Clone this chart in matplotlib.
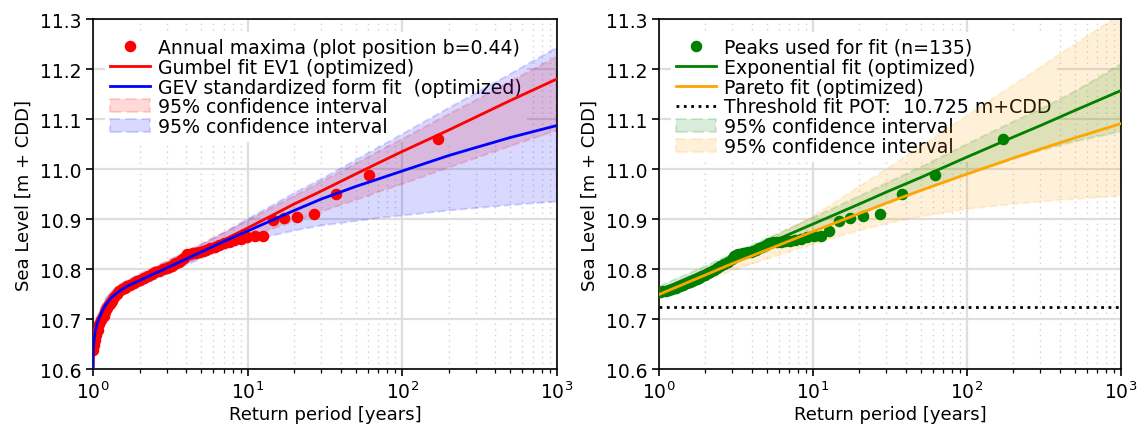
import matplotlib
matplotlib.use('Agg')
import matplotlib.pyplot as plt

# ---- left panel: annual maxima + Gumbel / GEV fits ----
am_period = [170, 61, 37.2, 26.7, 20.9, 17.1, 14.5, 12.6, 11.1, 9.95, 9.0, 8.2,
             7.57, 7.01, 6.53, 6.11, 5.74, 5.41, 5.12, 4.86, 4.62, 4.41, 4.21,
             4.04, 3.87, 3.72, 3.59, 3.46, 3.33, 3.22, 3.11, 3.01, 2.83, 2.67,
             2.53, 2.40, 2.28, 2.13, 2.02, 1.92, 1.83, 1.74, 1.67, 1.60, 1.53,
             1.47, 1.42, 1.37, 1.32, 1.28, 1.24, 1.20, 1.17, 1.13, 1.10, 1.07,
             1.05, 1.035, 1.02, 1.007]
am_level = [11.06, 10.988, 10.95, 10.911, 10.905, 10.903, 10.899, 10.866, 10.866,
            10.864, 10.861, 10.858, 10.855, 10.852, 10.849, 10.845, 10.842, 10.839,
            10.837, 10.835, 10.833, 10.832, 10.831, 10.83, 10.822, 10.818, 10.815,
            10.812, 10.81, 10.807, 10.805, 10.803, 10.80, 10.797, 10.794, 10.79,
            10.787, 10.782, 10.779, 10.776, 10.772, 10.769, 10.766, 10.763, 10.76,
            10.756, 10.751, 10.744, 10.737, 10.73, 10.722, 10.714, 10.706, 10.698,
            10.69, 10.678, 10.668, 10.658, 10.648, 10.638]

fit_period = [1.0005, 1.003, 1.01, 1.03, 1.06, 1.1, 1.15, 1.2, 1.3, 1.4, 1.5, 1.7,
              2, 2.5, 3, 4, 5, 7, 10, 15, 20, 30, 50, 70, 100, 200, 300, 500, 1000]
gumbel = [10.60, 10.63, 10.655, 10.675, 10.692, 10.706, 10.72, 10.731, 10.745,
          10.755, 10.762, 10.771, 10.781, 10.795, 10.806, 10.823, 10.837, 10.858,
          10.882, 10.91, 10.93, 10.956, 10.99, 11.012, 11.035, 11.078, 11.104,
          11.137, 11.18]
gumbel_hi = [10.61, 10.64, 10.664, 10.684, 10.70, 10.714, 10.728, 10.739, 10.753,
             10.763, 10.77, 10.779, 10.79, 10.804, 10.816, 10.835, 10.85, 10.873,
             10.897, 10.926, 10.946, 10.975, 11.011, 11.035, 11.06, 11.11, 11.138,
             11.175, 11.225]
gumbel_lo = [10.59, 10.62, 10.646, 10.666, 10.684, 10.698, 10.712, 10.723, 10.737,
             10.747, 10.754, 10.763, 10.772, 10.786, 10.796, 10.811, 10.824, 10.843,
             10.863, 10.882, 10.895, 10.915, 10.938, 10.954, 10.97, 11.003, 11.022,
             11.046, 11.077]
gev = [10.60, 10.63, 10.65, 10.672, 10.69, 10.703, 10.716, 10.727, 10.741, 10.75,
       10.757, 10.767, 10.777, 10.791, 10.802, 10.82, 10.834, 10.855, 10.876, 10.90,
       10.917, 10.94, 10.965, 10.98, 10.996, 11.027, 11.043, 11.063, 11.087]
gev_hi = [10.612, 10.642, 10.662, 10.684, 10.702, 10.715, 10.728, 10.739, 10.753,
          10.762, 10.769, 10.779, 10.789, 10.803, 10.815, 10.834, 10.849, 10.872,
          10.90, 10.93, 10.952, 10.98, 11.018, 11.043, 11.07, 11.122, 11.152, 11.19,
          11.243]
gev_lo = [10.588, 10.618, 10.638, 10.66, 10.678, 10.691, 10.704, 10.715, 10.729,
          10.738, 10.745, 10.755, 10.765, 10.779, 10.79, 10.808, 10.821, 10.839,
          10.853, 10.868, 10.877, 10.887, 10.896, 10.902, 10.907, 10.917, 10.922,
          10.928, 10.935]

# ---- right panel: peaks over threshold + exponential / Pareto fits ----
pot_period = [172, 61.8, 37.7, 27.1, 21.2, 17.4, 14.7, 12.8, 11.3, 10.1, 9.12, 8.33,
              7.67, 7.11, 6.62, 6.2, 5.83, 5.49, 5.2, 4.93, 4.69, 4.47, 4.28, 4.1,
              3.93, 3.78, 3.64, 3.5, 3.38, 3.26, 3.16, 3.06, 2.96, 2.79, 2.64, 2.5,
              2.38, 2.27, 2.16, 2.07, 1.98, 1.90, 1.83, 1.76, 1.70, 1.64, 1.58, 1.53,
              1.44, 1.36, 1.29, 1.22, 1.16, 1.11, 1.06, 1.01]
pot_level = [11.06, 10.988, 10.95, 10.911, 10.907, 10.903, 10.897, 10.877, 10.867,
             10.866, 10.864, 10.861, 10.859, 10.857, 10.856, 10.855, 10.855, 10.854,
             10.853, 10.848, 10.845, 10.842, 10.839, 10.837, 10.835, 10.834, 10.833,
             10.832, 10.831, 10.83, 10.828, 10.826, 10.82, 10.814, 10.81, 10.806,
             10.802, 10.799, 10.795, 10.792, 10.789, 10.786, 10.783, 10.78, 10.778,
             10.776, 10.774, 10.772, 10.769, 10.766, 10.763, 10.761, 10.759, 10.757,
             10.756, 10.755]

pot_fit_period = [1, 2, 3, 5, 10, 20, 30, 50, 100, 200, 300, 500, 1000]
expon = [10.757, 10.797, 10.821, 10.850, 10.890, 10.930, 10.954, 10.983, 11.024,
         11.064, 11.087, 11.117, 11.157]
expon_hi = [10.765, 10.806, 10.831, 10.861, 10.903, 10.946, 10.972, 11.004, 11.05,
            11.095, 11.12, 11.155, 11.21]
expon_lo = [10.749, 10.788, 10.81, 10.838, 10.875, 10.91, 10.93, 10.957, 10.99,
            11.02, 11.037, 11.055, 11.075]
pareto = [10.749, 10.788, 10.811, 10.838, 10.875, 10.911, 10.932, 10.957, 10.99,
          11.022, 11.04, 11.062, 11.091]
pareto_hi = [10.758, 10.80, 10.825, 10.857, 10.905, 10.965, 11.0, 11.045, 11.107,
             11.168, 11.204, 11.249, 11.31]
pareto_lo = [10.74, 10.777, 10.797, 10.82, 10.85, 10.877, 10.891, 10.905, 10.92,
             10.93, 10.935, 10.94, 10.947]
threshold = 10.725

plt.rcParams['font.family'] = ['DejaVu Sans']
plt.rcParams['font.size'] = 13
plt.rcParams['xtick.labelsize'] = 13.5
plt.rcParams['ytick.labelsize'] = 13.5

fig = plt.figure(figsize=(11.48, 4.31), dpi=100)
ax1 = fig.add_axes([0.081, 0.1415, 0.404, 0.812])
ax2 = fig.add_axes([0.574, 0.1415, 0.4025, 0.812])


def style_axis(ax):
    ax.set_xscale('log')
    ax.set_xlim(1, 1000)
    ax.set_ylim(10.6, 11.3)
    ax.set_yticks([10.6, 10.7, 10.8, 10.9, 11.0, 11.1, 11.2, 11.3])
    ax.grid(which='major', color='#dedede', lw=1.6)
    ax.grid(which='minor', axis='x', color='#d0d0d0', lw=1.0, ls=(0, (1, 3)))
    ax.set_axisbelow(True)
    ax.set_xlabel('Return period [years]', labelpad=2)
    ax.set_ylabel('Sea Level [m + CDD]', labelpad=5)
    ax.tick_params(which='major', length=5, width=1.2)
    ax.tick_params(which='minor', length=3, width=0.9)
    for s in ax.spines.values():
        s.set_linewidth(1.2)


# left
ax1.plot(am_period, am_level, 'o', color='red', ms=7.3, zorder=3,
         label='Annual maxima (plot position b=0.44)')
ax1.plot(fit_period, gumbel, color='red', lw=2, zorder=3,
         label='Gumbel fit EV1 (optimized)')
ax1.plot(fit_period, gev, color='blue', lw=2, zorder=3,
         label='GEV standardized form fit  (optimized)')
ax1.fill_between(fit_period, gumbel_lo, gumbel_hi, color='red', alpha=0.15,
                 ls='--', lw=1.5, zorder=2, label='95% confidence interval')
ax1.fill_between(fit_period, gev_lo, gev_hi, color='blue', alpha=0.15,
                 ls='--', lw=1.5, zorder=2, label='95% confidence interval')
style_axis(ax1)

# right
ax2.plot(pot_period, pot_level, 'o', color='green', ms=7.3, zorder=3,
         label='Peaks used for fit (n=135)')
ax2.plot(pot_fit_period, expon, color='green', lw=2, zorder=3,
         label='Exponential fit (optimized)')
ax2.plot(pot_fit_period, pareto, color='orange', lw=2, zorder=3,
         label='Pareto fit (optimized)')
ax2.axhline(threshold, color='black', ls=':', lw=2, zorder=3,
            label='Threshold fit POT:  10.725 m+CDD')
ax2.fill_between(pot_fit_period, expon_lo, expon_hi, color='green', alpha=0.15,
                 ls='--', lw=1.5, zorder=2, label='95% confidence interval')
ax2.fill_between(pot_fit_period, pareto_lo, pareto_hi, color='orange', alpha=0.15,
                 ls='--', lw=1.5, zorder=2, label='95% confidence interval')
style_axis(ax2)

for ax in (ax1, ax2):
    # white box hides the grid, data is drawn on top of it
    leg = ax.legend(loc='upper left', bbox_to_anchor=(0.005, 0.99),
                    fontsize=13.6, labelspacing=0.05, handlelength=2.1,
                    handletextpad=0.4, borderpad=0.3, fancybox=False,
                    framealpha=1)
    leg.get_frame().set_edgecolor('none')
    leg.set_zorder(1.5)

fig.savefig('out.png', dpi=100)
